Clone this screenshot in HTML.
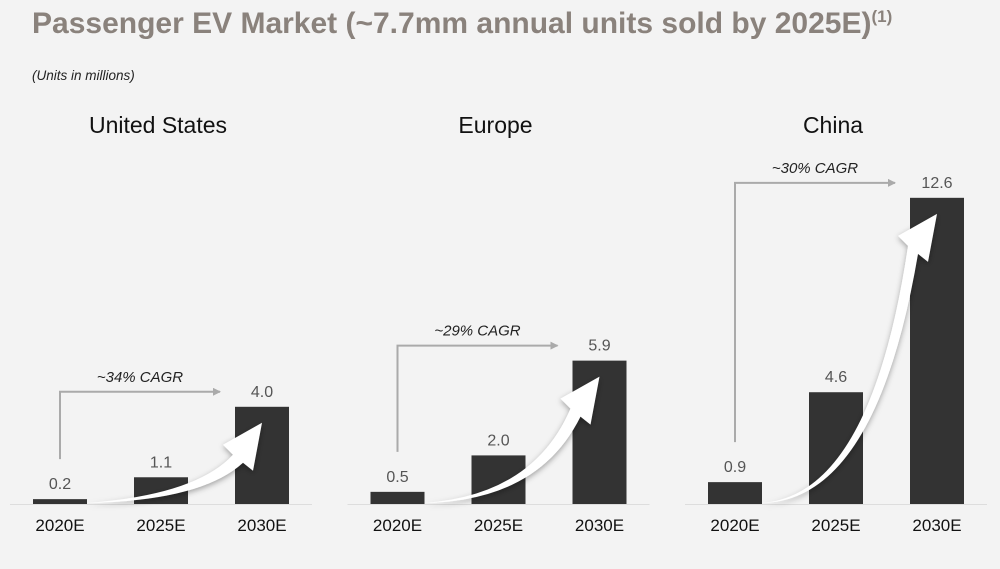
<!DOCTYPE html>
<html><head><meta charset="utf-8"><style>
body{margin:0;background:#f3f3f3;width:1000px;height:564px;overflow:hidden;font-family:"Liberation Sans",sans-serif}
</style></head><body>
<svg width="1000" height="564">
<defs><filter id="sh" x="-20%" y="-20%" width="140%" height="140%"><feDropShadow dx="0" dy="2" stdDeviation="3" flood-color="#000" flood-opacity="0.35"/></filter>
<marker id="ah" markerWidth="8" markerHeight="8" refX="7" refY="4" orient="auto" markerUnits="userSpaceOnUse"><path d="M0,0L8,4L0,8z" fill="#aaa"/></marker></defs>
<text x="32" y="33" font-size="30" font-weight="bold" fill="#8a827c">Passenger EV Market (~7.7mm annual units sold by 2025E)<tspan font-size="17" dy="-11">(1)</tspan></text>
<text x="32" y="80" font-size="13.5" font-style="italic" fill="#222">(Units in millions)</text>
<g id="g"></g>
</svg>
<script>
const regions=["United States","Europe","China"];
const years=["2020E","2025E","2030E"];
const us=[0.2,1.1,4.0];
const europe=[0.5,2.0,5.9];
const china=[0.9,4.6,12.6];
const cagrs=["~34% CAGR","~29% CAGR","~30% CAGR"];
const series=[us,europe,china];
const ns="http://www.w3.org/2000/svg";
const g=document.getElementById('g');
const base=504, k=24.3;
const y=v=>base-v*k;
function mk(t,a,txt){const e=document.createElementNS(ns,t);for(const n in a)e.setAttribute(n,a[n]);if(txt!==undefined)e.textContent=txt;g.appendChild(e);return e;}
series.forEach((s,p)=>{
 const ox=p*337.5;
 const bx=i=>ox+33+i*101;
 let e=mk('text',{x:ox+158,y:133,'font-size':23,'text-anchor':'middle',fill:'#111'},regions[p]);
 
 e=mk('line',{x1:ox+10,x2:ox+312,y1:base+0.5,y2:base+0.5,stroke:'#ddd'});
 
 s.forEach((v,i)=>{
  e=mk('rect',{x:bx(i),y:y(v),width:54,height:v*k,fill:'#333'});
  
  e=mk('text',{x:bx(i)+27,y:y(v)-10,'font-size':16,'text-anchor':'middle',fill:'#555'},v.toFixed(1));
  
  e=mk('text',{x:bx(i)+27,y:531,'font-size':17,'text-anchor':'middle',fill:'#111'},years[i]);
  
 });
 const top=y(s[2])-15, x0=ox+60;
 e=mk('path',{d:`M${x0},${y(s[0])-40} V${top} H${ox+220}`,fill:'none',stroke:'#aaa','stroke-width':2,'marker-end':'url(#ah)'});
 
 e=mk('text',{x:ox+140,y:top-10,'font-size':15,'font-style':'italic','text-anchor':'middle',fill:'#222'},cagrs[p]);
 
 const sx=bx(0)+54, sy=base-1, tx=bx(2)+20, ty=y(s[2])+20;
 const mx=(sx+tx)/2+25, my=sy-10;
 const hx=tx-3, hy=ty+2;
 e=mk('path',{d:`M${sx},${sy} Q${mx},${my+2} ${tx-22},${ty+28} L${tx-32},${ty+18} L${hx+10},${hy-6} L${tx-2},${ty+44} L${tx-12},${ty+36} Q${mx+5},${my+8} ${sx},${sy} Z`,fill:'#fff',filter:'url(#sh)'});
 
});
</script>
</body></html>
